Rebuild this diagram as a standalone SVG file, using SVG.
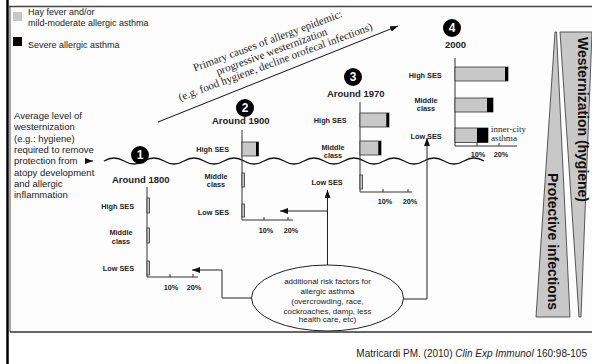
<svg xmlns="http://www.w3.org/2000/svg" width="592" height="364" viewBox="0 0 592 364">
<defs>
<style>
text{font-family:"Liberation Sans",Arial,sans-serif;fill:#222}
.leg{font-size:9px}
.side{font-size:9.5px}
.ttl{font-size:9.5px;font-weight:bold}
.lab{font-size:7.3px;font-weight:bold}
.mid{text-anchor:middle}
.end{text-anchor:end}
.ax{stroke:#333;stroke-width:1;fill:none}
.bar{fill:#c8c8c8;stroke:#333;stroke-width:0.8}
.blk{fill:#000}
.num{font-size:12px;font-weight:bold;fill:#fff;text-anchor:middle}
.conn{stroke:#222;stroke-width:1;fill:none}
.serif{font-family:"Liberation Serif","Times New Roman",serif}
.wedge{fill:#c8c8c8;stroke:#333;stroke-width:0.8}
.big{font-size:14px;font-weight:bold;fill:#111}
.ell{font-size:8px;text-anchor:middle}
</style>
<marker id="ah" markerWidth="8" markerHeight="6" refX="8" refY="3" orient="auto" markerUnits="userSpaceOnUse">
<path d="M0,0 L8,3 L0,6 z" fill="#111"/>
</marker>
</defs>

<g id="frame">
<rect x="10" y="7" width="582" height="325" fill="#fdfdfd"/>
<line x1="7.5" y1="0" x2="7.5" y2="364" stroke="#000" stroke-width="2.5"/>
<line x1="10" y1="6" x2="10" y2="332" stroke="#888" stroke-width="1.5"/>
<line x1="9" y1="6.5" x2="592" y2="6.5" stroke="#444" stroke-width="1.3"/>
<line x1="10" y1="332" x2="592" y2="332" stroke="#333" stroke-width="1.3"/>
</g>

<g id="legend">
<rect x="13" y="12" width="9" height="9" fill="#c8c8c8"/>
<text class="leg" x="28" y="15">Hay fever and/or</text>
<text class="leg" x="28" y="26">mild-moderate allergic asthma</text>
<rect x="13" y="37" width="9" height="9" fill="#000"/>
<text class="leg" x="28" y="48">Severe allergic asthma</text>
</g>

<g id="side-note">
<text class="side" x="14" y="119">Average level of</text>
<text class="side" x="14" y="130.3">westernization</text>
<text class="side" x="14" y="141.6">(e.g.: hygiene)</text>
<text class="side" x="14" y="152.9">required to remove</text>
<text class="side" x="14" y="164.2">protection from</text>
<text class="side" x="14" y="175.5">atopy development</text>
<text class="side" x="14" y="186.8">and allergic</text>
<text class="side" x="14" y="198.1">inflammation</text>
<line x1="85" y1="161" x2="93" y2="161" stroke="#222" stroke-width="1" marker-end="url(#ah)"/>
</g>

<g id="threshold">
<path d="M104,161 q10,-6 20,0 t20,0 t20,0 t20,0 t20,0 t20,0 t20,0 t20,0 t20,0 t20,0 t20,0 t20,0 t20,0 t20,0 t20,0 t20,0 t20,0 t20,0 t20,0" fill="none" stroke="#111" stroke-width="1.3"/>
</g>

<g id="epidemic-arrow">
<line x1="158" y1="122" x2="398" y2="26" stroke="#111" stroke-width="1" marker-end="url(#ah)"/>
<g transform="translate(277,72) rotate(-20.3)">
<text class="serif mid" x="2" y="-29" font-size="11">Primary causes of allergy epidemic:</text>
<text class="serif mid" x="2" y="-17.5" font-size="11">progressive westernization</text>
<text class="serif mid" x="2" y="-6.5" font-size="11">(e.g. food hygiene, decline orofecal infections)</text>
</g>
</g>

<g id="period-1800">
<circle cx="140" cy="155" r="9" fill="#000"/>
<text class="num" x="140" y="159.3">1</text>
<text class="ttl" x="112" y="183">Around 1800</text>
<line class="ax" x1="147" y1="187" x2="147" y2="277"/>
<line class="ax" x1="147" y1="277" x2="198" y2="277"/>
<line class="ax" x1="170" y1="274" x2="170" y2="277"/>
<line class="ax" x1="193" y1="274" x2="193" y2="277"/>
<text class="lab mid" x="171" y="290">10%</text>
<text class="lab mid" x="194" y="290">20%</text>
<rect class="bar" x="147" y="198" width="2.5" height="15"/>
<rect class="bar" x="147" y="228" width="2.5" height="15"/>
<rect class="bar" x="147" y="261" width="2.5" height="14"/>
<text class="lab end" x="134" y="208.5">High SES</text>
<text class="lab mid" x="121" y="235">Middle</text>
<text class="lab mid" x="121" y="244">class</text>
<text class="lab end" x="134" y="271">Low SES</text>
</g>

<g id="period-1900">
<circle cx="245" cy="108" r="9" fill="#000"/>
<text class="num" x="245" y="112.3">2</text>
<text class="ttl" x="212" y="124">Around 1900</text>
<line class="ax" x1="242" y1="130" x2="242" y2="220"/>
<line class="ax" x1="242" y1="220" x2="293" y2="220"/>
<line class="ax" x1="264" y1="217" x2="264" y2="220"/>
<line class="ax" x1="288" y1="217" x2="288" y2="220"/>
<text class="lab mid" x="266" y="233">10%</text>
<text class="lab mid" x="291" y="233">20%</text>
<rect class="bar" x="242" y="142" width="16.5" height="14"/>
<rect class="blk" x="256" y="142" width="2.5" height="14"/>
<rect class="bar" x="242" y="173" width="2.5" height="14"/>
<rect class="bar" x="242" y="204" width="2.5" height="13"/>
<text class="lab end" x="229" y="152">High SES</text>
<text class="lab mid" x="216" y="178.5">Middle</text>
<text class="lab mid" x="216" y="187">class</text>
<text class="lab end" x="229" y="214.5">Low SES</text>
</g>

<g id="period-1970">
<circle cx="353" cy="77" r="9" fill="#000"/>
<text class="num" x="353" y="81.3">3</text>
<text class="ttl" x="327" y="96.5">Around 1970</text>
<line class="ax" x1="360" y1="102" x2="360" y2="192"/>
<line class="ax" x1="360" y1="192" x2="412" y2="192"/>
<line class="ax" x1="383" y1="189" x2="383" y2="192"/>
<line class="ax" x1="408" y1="189" x2="408" y2="192"/>
<text class="lab mid" x="385" y="204">10%</text>
<text class="lab mid" x="410" y="204">20%</text>
<rect class="bar" x="360" y="113" width="29" height="14"/>
<rect class="blk" x="386.3" y="113" width="2.7" height="14"/>
<rect class="bar" x="360" y="141" width="21" height="14"/>
<rect class="blk" x="378.3" y="141" width="2.7" height="14"/>
<rect class="bar" x="360" y="175" width="2.5" height="14"/>
<text class="lab end" x="346.7" y="122.5">High SES</text>
<text class="lab mid" x="333" y="149.5">Middle</text>
<text class="lab mid" x="333" y="158">class</text>
<text class="lab end" x="342.7" y="185">Low SES</text>
</g>

<g id="period-2000">
<circle cx="452" cy="28" r="9" fill="#000"/>
<text class="num" x="452" y="32.3">4</text>
<text class="ttl" x="445" y="48">2000</text>
<line class="ax" x1="455" y1="58" x2="455" y2="146"/>
<line class="ax" x1="455" y1="146" x2="517" y2="146"/>
<line class="ax" x1="477" y1="143" x2="477" y2="146"/>
<line class="ax" x1="499" y1="143" x2="499" y2="146"/>
<text class="lab mid" x="478" y="157">10%</text>
<text class="lab mid" x="501" y="157">20%</text>
<rect class="bar" x="455" y="67" width="53" height="14"/>
<rect class="blk" x="505" y="67" width="3" height="14"/>
<rect class="bar" x="455" y="98" width="38" height="14"/>
<rect class="blk" x="487" y="98" width="6" height="14"/>
<rect class="bar" x="455" y="128" width="33" height="14.5"/>
<rect class="blk" x="477" y="128" width="11" height="14.5"/>
<text class="serif" x="491" y="132" font-size="7.5" textLength="35" lengthAdjust="spacingAndGlyphs">inner-city</text>
<text class="serif" x="491" y="140.5" font-size="7.5" textLength="26" lengthAdjust="spacingAndGlyphs">asthma</text>
<text class="lab end" x="441.7" y="77.5">High SES</text>
<text class="lab mid" x="426" y="102.5">Middle</text>
<text class="lab mid" x="426" y="111">class</text>
<text class="lab end" x="441.7" y="139">Low SES</text>
</g>

<g id="risk-factors">
<ellipse cx="327.5" cy="298" rx="76" ry="33" fill="#fdfdfd" stroke="#222" stroke-width="1"/>
<text class="ell" x="327.5" y="284">additional risk factors for</text>
<text class="ell" x="327.5" y="293.5">allergic asthma</text>
<text class="ell" x="327.5" y="304">(overcrowding, race,</text>
<text class="ell" x="327.5" y="313.5">cockroaches, damp, less</text>
<text class="ell" x="327.5" y="322">health care, etc)</text>
</g>

<g id="connectors">
<path class="conn" d="M251.5,298 H222 V270 H192" marker-end="url(#ah)"/>
<path class="conn" d="M327.5,265 V190" marker-end="url(#ah)"/>
<path class="conn" d="M327.5,211 H280" marker-end="url(#ah)"/>
<path class="conn" d="M403.5,299 H427 V138" marker-end="url(#ah)"/>
</g>

<g id="wedges">
<polygon class="wedge" points="555,32 556.5,32 570,317 536,317"/>
<polygon class="wedge" points="560,32 592,32 581,317 579,317"/>
<text class="big" transform="translate(578,37) rotate(90)" textLength="165" lengthAdjust="spacingAndGlyphs">Westernization (hygiene)</text>
<text class="big" transform="translate(548,173) rotate(90)" textLength="137" lengthAdjust="spacingAndGlyphs">Protective infections</text>
</g>

<g id="citation">
<text x="587" y="356.5" font-size="10" text-anchor="end">Matricardi PM. (2010) <tspan font-style="italic">Clin Exp Immunol</tspan> 160:98-105</text>
</g>
</svg>
